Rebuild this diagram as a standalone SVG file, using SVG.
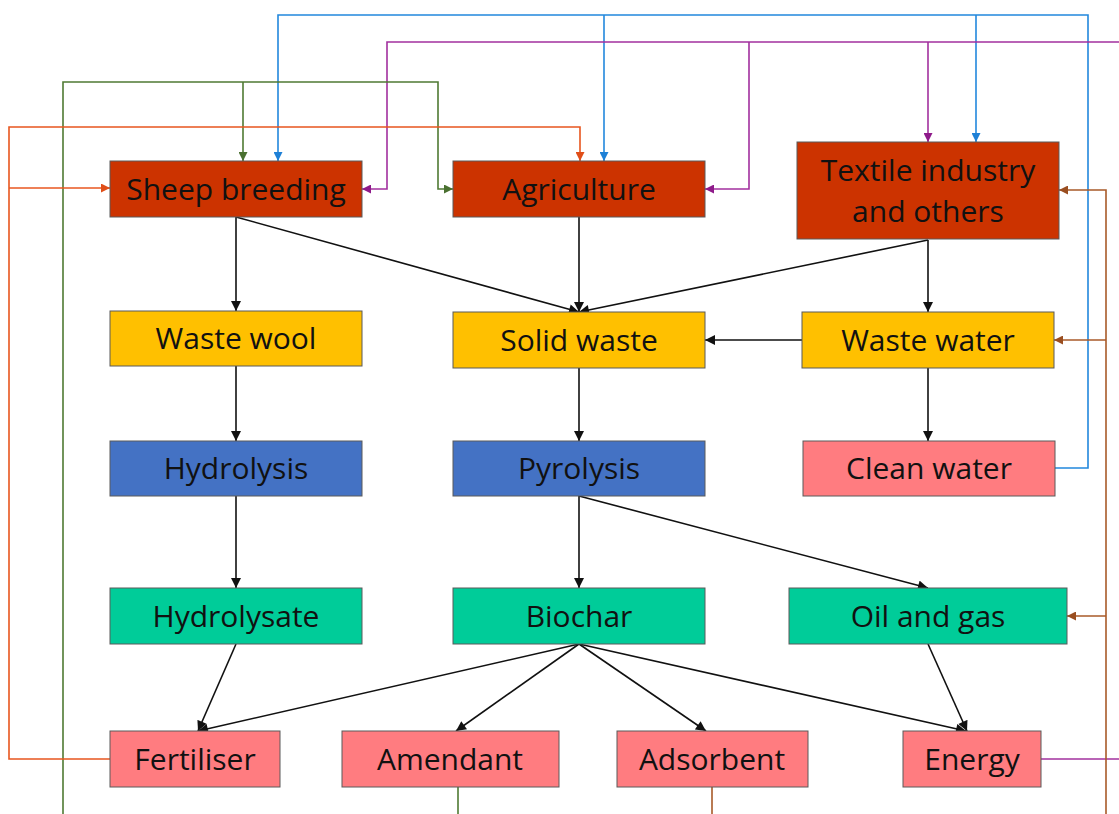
<svg xmlns="http://www.w3.org/2000/svg" width="1119" height="814" viewBox="0 0 1119 814">
<style>
.n rect{stroke:#5a5a5a;stroke-width:1}
.red{fill:#CC3300}.yel{fill:#FFC000}.blu{fill:#4472C4}.pnk{fill:#FF7C80}.grn{fill:#00CC99}
text{font-family:"Open Sans","Liberation Sans",Arial,sans-serif;font-size:30px;fill:#111;text-anchor:middle}
.c path{fill:none}
.k{stroke:#111;stroke-width:1.6;marker-end:url(#mk)}
.b{stroke:#2288DD;stroke-width:1.6}
.m{stroke:#A2309E;stroke-width:1.6}
.g{stroke:#4F7A33;stroke-width:1.6}
.o{stroke:#E8561F;stroke-width:1.6}
.w{stroke:#A85A28;stroke-width:1.6}
</style>
<defs>
<marker id="mk" viewBox="0 0 10 10" refX="10" refY="5" markerWidth="11" markerHeight="10" markerUnits="userSpaceOnUse" orient="auto"><path d="M0,0L10,5L0,10z" fill="#111"/></marker>
<marker id="mb" viewBox="0 0 10 10" refX="10" refY="5" markerWidth="10" markerHeight="9" markerUnits="userSpaceOnUse" orient="auto"><path d="M0,0L10,5L0,10z" fill="#1E80D6"/></marker>
<marker id="mm" viewBox="0 0 10 10" refX="10" refY="5" markerWidth="10" markerHeight="9" markerUnits="userSpaceOnUse" orient="auto"><path d="M0,0L10,5L0,10z" fill="#8E1A8A"/></marker>
<marker id="mg" viewBox="0 0 10 10" refX="10" refY="5" markerWidth="10" markerHeight="9" markerUnits="userSpaceOnUse" orient="auto"><path d="M0,0L10,5L0,10z" fill="#4A7030"/></marker>
<marker id="mo" viewBox="0 0 10 10" refX="10" refY="5" markerWidth="10" markerHeight="9" markerUnits="userSpaceOnUse" orient="auto"><path d="M0,0L10,5L0,10z" fill="#E04E18"/></marker>
<marker id="mw" viewBox="0 0 10 10" refX="10" refY="5" markerWidth="10" markerHeight="9" markerUnits="userSpaceOnUse" orient="auto"><path d="M0,0L10,5L0,10z" fill="#9A4E20"/></marker>
</defs>
<rect width="1119" height="814" fill="#fff"/>
<g id="connectors" class="c">
<path class="k" d="M236,217V311"/>
<path class="k" d="M236,217L579,312"/>
<path class="k" d="M579,217V312"/>
<path class="k" d="M928,240L579,312"/>
<path class="k" d="M928,240V312"/>
<path class="k" d="M802,340H705"/>
<path class="k" d="M236,366V441"/>
<path class="k" d="M579,368V441"/>
<path class="k" d="M928,368V441"/>
<path class="k" d="M236,496V588"/>
<path class="k" d="M579,496V588"/>
<path class="k" d="M579,496L928,588"/>
<path class="k" d="M236,644L198,731"/>
<path class="k" d="M579,644L198,731"/>
<path class="k" d="M579,644L456,731"/>
<path class="k" d="M579,644L706,731"/>
<path class="k" d="M579,644L966,731"/>
<path class="k" d="M928,644L967,731"/>
<path class="b" d="M1055,468H1088V15H278V161" marker-end="url(#mb)"/>
<path class="b" d="M604,15V161" marker-end="url(#mb)"/>
<path class="b" d="M976,15V142" marker-end="url(#mb)"/>
<path class="m" d="M1119,42H387V189H362" marker-end="url(#mm)"/>
<path class="m" d="M749,42V189H705" marker-end="url(#mm)"/>
<path class="m" d="M928,42V142" marker-end="url(#mm)"/>
<path class="m" d="M1041,759H1119"/>
<path class="g" d="M63,814V82H438V189H453" marker-end="url(#mg)"/>
<path class="g" d="M243,82V161" marker-end="url(#mg)"/>
<path class="g" d="M458,787V814"/>
<path class="o" d="M110,759H9V127H580V161" marker-end="url(#mo)"/>
<path class="o" d="M9,188H110" marker-end="url(#mo)"/>
<path class="w" d="M712,787V814"/>
<path class="w" d="M1106,814V190H1059" marker-end="url(#mw)"/>
<path class="w" d="M1106,340H1054" marker-end="url(#mw)"/>
<path class="w" d="M1106,616H1067" marker-end="url(#mw)"/>
</g>
<g id="sheep" class="n"><rect class="red" x="110" y="161" width="252" height="56"/><text x="236" y="200">Sheep breeding</text></g>
<g id="agriculture" class="n"><rect class="red" x="453" y="161" width="252" height="56"/><text x="579" y="200">Agriculture</text></g>
<g id="textile" class="n"><rect class="red" x="797" y="142" width="262" height="97"/><text x="928" y="181">Textile industry</text><text x="928" y="222">and others</text></g>
<g id="wastewool" class="n"><rect class="yel" x="110" y="311" width="252" height="55"/><text x="236" y="349">Waste wool</text></g>
<g id="solidwaste" class="n"><rect class="yel" x="453" y="312" width="252" height="56"/><text x="579" y="351">Solid waste</text></g>
<g id="wastewater" class="n"><rect class="yel" x="802" y="312" width="252" height="56"/><text x="928" y="351">Waste water</text></g>
<g id="hydrolysis" class="n"><rect class="blu" x="110" y="441" width="252" height="55"/><text x="236" y="479">Hydrolysis</text></g>
<g id="pyrolysis" class="n"><rect class="blu" x="453" y="441" width="252" height="55"/><text x="579" y="479">Pyrolysis</text></g>
<g id="cleanwater" class="n"><rect class="pnk" x="803" y="441" width="252" height="55"/><text x="929" y="479">Clean water</text></g>
<g id="hydrolysate" class="n"><rect class="grn" x="110" y="588" width="252" height="56"/><text x="236" y="627">Hydrolysate</text></g>
<g id="biochar" class="n"><rect class="grn" x="453" y="588" width="252" height="56"/><text x="579" y="627">Biochar</text></g>
<g id="oilgas" class="n"><rect class="grn" x="789" y="588" width="278" height="56"/><text x="928" y="627">Oil and gas</text></g>
<g id="fertiliser" class="n"><rect class="pnk" x="110" y="731" width="170" height="56"/><text x="195" y="770">Fertiliser</text></g>
<g id="amendant" class="n"><rect class="pnk" x="342" y="731" width="217" height="56"/><text x="450" y="770">Amendant</text></g>
<g id="adsorbent" class="n"><rect class="pnk" x="617" y="731" width="191" height="56"/><text x="712" y="770">Adsorbent</text></g>
<g id="energy" class="n"><rect class="pnk" x="903" y="731" width="138" height="56"/><text x="972" y="770">Energy</text></g>
</svg>
